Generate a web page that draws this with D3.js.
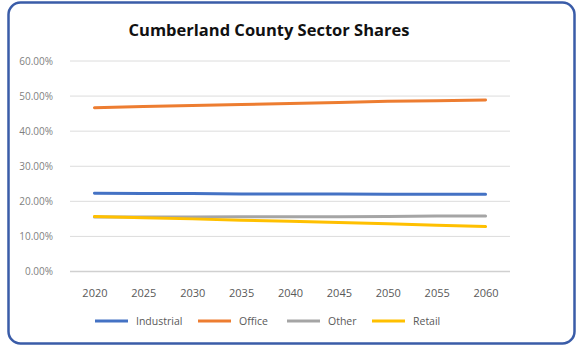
<!DOCTYPE html>
<html>
<head>
<meta charset="utf-8">
<script src="https://cdn.jsdelivr.net/npm/d3@7"></script>
<style>
  body { margin: 0; background: #fff; }
  svg { display: block; }
</style>
</head>
<body>
<script>
// chart data
var years = [2020, 2025, 2030, 2035, 2040, 2045, 2050, 2055, 2060];
var industrial = [22.3, 22.2, 22.2, 22.1, 22.1, 22.1, 22.0, 22.0, 22.0];
var office = [46.7, 47.0, 47.3, 47.6, 47.9, 48.2, 48.5, 48.7, 48.9];
var other = [15.5, 15.5, 15.5, 15.6, 15.6, 15.6, 15.7, 15.8, 15.8];
var retail = [15.7, 15.3, 15.0, 14.6, 14.3, 14.0, 13.6, 13.2, 12.8];
var yTicks = [0, 10, 20, 30, 40, 50, 60];

var series = [
  {name: "Industrial", values: industrial, color: "#4472c4"},
  {name: "Office", values: office, color: "#ed7d31"},
  {name: "Other", values: other, color: "#a5a5a5"},
  {name: "Retail", values: retail, color: "#ffc000"}
];

var w = 577;
var h = 345;
var font = "'Open Sans', sans-serif";

var svg = d3.select("body")
            .append("svg")
            .attr("width", w)
            .attr("height", h);

// blue rounded frame
svg.append("rect")
    .attr("x", 8.5)
    .attr("y", 2.5)
    .attr("width", 566)
    .attr("height", 341)
    .attr("rx", 12)
    .attr("fill", "#fff")
    .attr("stroke", "#3a5ca8")
    .attr("stroke-width", 2.5);

// title
svg.append("text")
    .attr("x", 269)
    .attr("y", 36)
    .attr("text-anchor", "middle")
    .style("font-family", font)
    .style("font-weight", "bold")
    .style("font-size", "16.5px")
    .style("fill", "#111")
    .text("Cumberland County Sector Shares");

// plot area
var plot = {left: 70, right: 510, top: 61, bottom: 271.5};

var xScale = d3.scalePoint()
   .domain(years)
   .range([plot.left, plot.right])
   .padding(0.5);

var yScale = d3.scaleLinear()
   .domain([0, 60])
   .range([plot.bottom, plot.top]);

// gridlines
svg.append("g")
    .selectAll("line")
    .data(yTicks)
    .enter()
    .append("line")
    .attr("x1", plot.left)
    .attr("x2", plot.right)
    .attr("y1", function(d) { return yScale(d); })
    .attr("y2", function(d) { return yScale(d); })
    .attr("stroke", function(d) { return d == 0 ? "#d0d0d0" : "#dcdcdc"; })
    .attr("stroke-width", function(d) { return d == 0 ? 1.5 : 1; });

// y axis labels
var yAxis = svg.append("g")
    .attr("transform", "translate(" + (plot.left - 14) + ",0)")
    .call(d3.axisLeft(yScale).tickValues(yTicks).tickSize(0).tickFormat(function(d) { return d.toFixed(2) + "%"; }));
yAxis.select(".domain").remove();
yAxis.selectAll("text")
    .style("font-family", font)
    .style("font-size", "10px")
    .style("fill", "#7f7f7f");

// x axis labels
var xAxis = svg.append("g")
    .attr("transform", "translate(0," + (plot.bottom + 15) + ")")
    .call(d3.axisBottom(xScale).tickSize(0));
xAxis.select(".domain").remove();
xAxis.selectAll("text")
    .style("font-family", font)
    .style("font-size", "11px")
    .style("fill", "#595959");

// lines
var line = d3.line()
    .x(function(d, i) { return xScale(years[i]); })
    .y(function(d) { return yScale(d); });

svg.selectAll(".series")
    .data(series)
    .enter()
    .append("path")
    .attr("class", "series")
    .attr("d", function(d) { return line(d.values); })
    .attr("fill", "none")
    .attr("stroke", function(d) { return d.color; })
    .attr("stroke-width", 3)
    .attr("stroke-linecap", "round");

// legend
var legendX = [95, 198, 287, 372];
var legend = svg.selectAll(".legend")
    .data(series)
    .enter()
    .append("g")
    .attr("class", "legend")
    .attr("transform", function(d, i) { return "translate(" + legendX[i] + ",321)"; });

legend.append("line")
    .attr("x1", 0)
    .attr("x2", 33)
    .attr("stroke", function(d) { return d.color; })
    .attr("stroke-width", 3);

legend.append("text")
    .attr("x", 41)
    .attr("dy", "0.35em")
    .style("font-family", font)
    .style("font-size", "10.5px")
    .style("fill", "#595959")
    .text(function(d) { return d.name; });
</script>
</body>
</html>
